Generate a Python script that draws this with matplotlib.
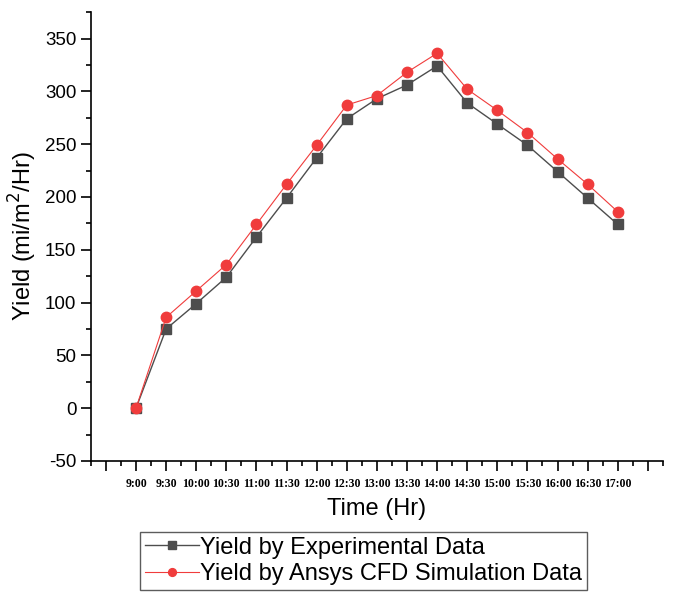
import matplotlib.pyplot as plt
from matplotlib.ticker import MultipleLocator

plt.rcParams["axes.unicode_minus"] = False

times = ["9:00", "9:30", "10:00", "10:30", "11:00", "11:30", "12:00", "12:30", "13:00",
         "13:30", "14:00", "14:30", "15:00", "15:30", "16:00", "16:30", "17:00"]
experimental = [0, 75, 99, 124, 162, 199, 237, 274, 293, 306, 324, 289, 269, 249, 224, 199, 174]
simulation = [0, 86, 111, 136, 174, 212, 249, 287, 296, 318, 336, 302, 282, 261, 236, 212, 186]

x = list(range(len(times)))

fig = plt.figure(figsize=(6.73, 5.93), dpi=100)
ax = fig.add_axes([0.135, 0.2226, 0.85, 0.757])

ax.plot(x, experimental, color="#4d4d4d", lw=1, marker="s", ms=7,
        mfc="#4d4d4d", mec="#4d4d4d", label="Yield by Experimental Data")
ax.plot(x, simulation, color="#f03c3c", lw=0.8, marker="o", ms=7.5,
        mfc="#f03c3c", mec="#f03c3c", label="Yield by Ansys CFD Simulation Data")

ax.set_xlim(-1.5, 17.5)
ax.set_ylim(-50, 375)

ax.set_xticks([-1] + x + [17])
ax.set_xticklabels([""] + times + [""], fontfamily="Liberation Serif",
                   fontweight="bold", fontsize=8.5)
ax.xaxis.set_minor_locator(MultipleLocator(0.5))
ax.yaxis.set_major_locator(MultipleLocator(50))
ax.yaxis.set_minor_locator(MultipleLocator(25))

for lab in ax.get_yticklabels():
    lab.set_fontfamily("Liberation Sans")
    lab.set_fontsize(13.5)

ax.tick_params(which="major", direction="out", length=7, width=1.2)
ax.tick_params(which="minor", direction="out", length=3.5, width=1.2)
ax.tick_params(axis="x", which="major", pad=5)

ax.spines["top"].set_visible(False)
ax.spines["right"].set_visible(False)
ax.spines["left"].set_linewidth(1.2)
ax.spines["bottom"].set_linewidth(1.2)

ax.set_xlabel("Time (Hr)", fontfamily="Liberation Sans", fontsize=17, labelpad=6)
ax.set_ylabel("Yield (mi/m$^2$/Hr)", fontfamily="Liberation Sans", fontsize=17, labelpad=4)

leg = fig.legend(loc="upper left", bbox_to_anchor=(0.208, 0.103),
                 prop={"family": "Liberation Sans", "size": 17},
                 frameon=True, fancybox=False, handlelength=2.3,
                 handletextpad=0.05, borderpad=0.2, labelspacing=0.2,
                 borderaxespad=0, markerscale=0.75)
leg.get_frame().set_edgecolor("#333333")
leg.get_frame().set_linewidth(1)

fig.savefig("out.png", dpi=100)
